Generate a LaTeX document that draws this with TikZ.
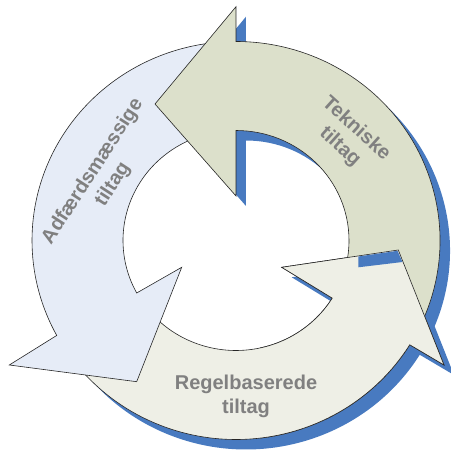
\documentclass[tikz,border=0pt]{standalone}
\usepackage{fontspec}
\setmainfont{Liberation Sans}
\definecolor{tekfill}{RGB}{220,224,203}
\definecolor{adffill}{RGB}{230,236,247}
\definecolor{regfill}{RGB}{238,239,230}
\definecolor{shadowblue}{RGB}{72,122,192}
\definecolor{labelgray}{RGB}{128,128,128}
\newcommand{\tekshape}{(-27:204 and 199) arc[start angle=-27,end angle=90,x radius=204,y radius=199]
  -- (0,233.8) -- (-81,136.5) -- (0,44.5) -- (90:113 and 110)
  arc[start angle=90,end angle=-27,x radius=113,y radius=110] -- cycle}
\newcommand{\regshape}{(215:204 and 199) arc[start angle=215,end angle=328.4,x radius=204,y radius=199]
  -- (208,-124.5) -- (162.3,-9.5) -- (45.7,-26.8) -- (328.4:113 and 110)
  arc[start angle=328.4,end angle=215,x radius=113,y radius=110] -- cycle}
\newcommand{\adfshape}{(95:204 and 199) arc[start angle=95,end angle=208.5,x radius=204,y radius=199]
  -- (-226.7,-124.5) -- (-99.3,-141.2) -- (-54.3,-26.8) -- (208.5:113 and 110)
  arc[start angle=208.5,end angle=95,x radius=113,y radius=110] -- cycle}
\begin{document}
\begin{tikzpicture}[x=1pt,y=1pt,
      arrow part/.style={draw=black!85,line width=0.6pt,line join=miter},
      shadow part/.style={fill=shadowblue,draw=none,shift={(10,-10)}},
      label node/.style={font=\bfseries\fontsize{20}{24}\selectfont,
        text=labelgray,align=center,inner sep=0pt}]
    \useasboundingbox (-236,-209.5) rectangle (215,240.5);
    \fill[shadow part] \tekshape;
    \fill[shadow part] \regshape;
    \filldraw[arrow part,fill=regfill] \regshape;
    \filldraw[arrow part,fill=adffill] \adfshape;
    \filldraw[arrow part,fill=tekfill] \tekshape;
    \begin{scope}
      \clip (24,-215) rectangle (220,0);
      \filldraw[arrow part,fill=regfill] \regshape;
    \end{scope}
    \fill[shadowblue] (122.3,-16.0) -- (161.5,-10.3) -- (166.5,-21.5) -- (122.3,-26.8) -- cycle;
    \node[label node,rotate=-42] (tek) at (112,102.5) {Tekniske\\tiltag};
    \node[label node,rotate=57] (adf) at (-133,62.5) {Adfærdsmæssige\\tiltag};
    \node[label node] (reg) at (10,-156.3) {Regelbaserede\\tiltag};
  \end{tikzpicture}
\end{document}
